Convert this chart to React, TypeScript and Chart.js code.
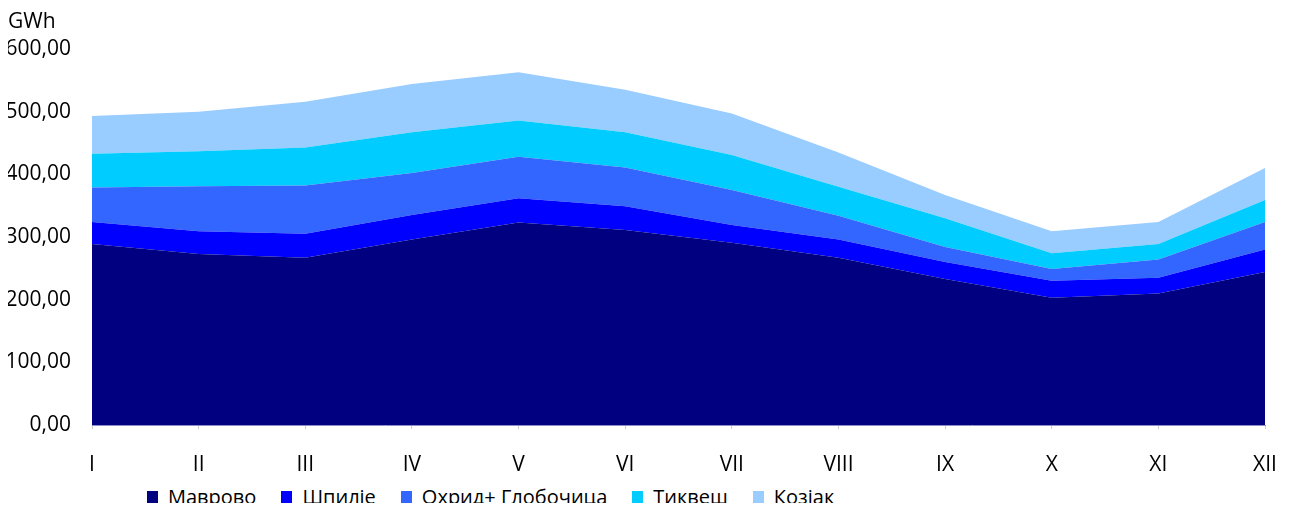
import React, { useEffect, useRef } from "react";
import { Chart, registerables } from "chart.js";

Chart.register(...registerables);

const months = ["I", "II", "III", "IV", "V", "VI", "VII", "VIII", "IX", "X", "XI", "XII"];
const mavrovo = [289, 273, 267, 296, 323, 311, 291, 267, 233, 203, 210, 244];
const spilje = [35, 36, 38, 39, 39, 38, 28, 29, 27, 27, 25, 36];
const ohrid = [55, 72, 77, 67, 66, 62, 56, 38, 24, 19, 29, 44];
const tikves = [54, 56, 61, 65, 58, 56, 56, 46, 46, 25, 25, 35];
const kozjak = [60, 63, 73, 77, 77, 68, 66, 55, 37, 35, 35, 51];
const seriesNames = ["Маврово", "Шпилје", "Охрид+ Глобочица", "Тиквеш", "Козјак"];
const seriesColors = ["#000080", "#0000FF", "#3366FF", "#00CCFF", "#99CCFF"];
const yTicks = [0, 100, 200, 300, 400, 500, 600];
const unitLabel = "GWh";

const FONT = "'Open Sans', sans-serif";

export default function App() {
  const canvasRef = useRef<HTMLCanvasElement | null>(null);

  useEffect(() => {
    const canvas = canvasRef.current;
    if (!canvas) return;
    const values = [mavrovo, spilje, ohrid, tikves, kozjak];
    const chart = new Chart(canvas, {
      type: "line",
      data: {
        labels: months,
        datasets: values.map((v, i) => ({
          label: seriesNames[i],
          data: v,
          backgroundColor: seriesColors[i],
          borderColor: seriesColors[i],
          borderWidth: 0,
          pointRadius: 0,
          tension: 0,
          fill: i === 0 ? "origin" : "-1",
        })),
      },
      options: {
        animation: false,
        responsive: false,
        maintainAspectRatio: false,
        layout: { padding: { top: 41, right: 19, left: 0, bottom: 0 } },
        plugins: {
          legend: { display: false },
          tooltip: { enabled: false },
        },
        scales: {
          x: {
            type: "category",
            offset: false,
            grid: {
              display: true,
              drawOnChartArea: false,
              drawTicks: true,
              tickLength: 4,
              color: "#d0d0d0",
            },
            border: { display: true, color: "#8c8cc6", width: 1 },
            ticks: {
              color: "#000",
              font: { family: FONT, size: 21 },
              padding: 23,
              maxRotation: 0,
              autoSkip: false,
            },
            afterFit: (scale: any) => {
              scale.height = 53;
              scale.paddingRight = 19;
              scale.paddingLeft = 0;
            },
          },
          y: {
            stacked: true,
            min: 0,
            max: 600,
            grid: { display: false, drawTicks: false },
            border: { display: false },
            afterBuildTicks: (scale: any) => {
              scale.ticks = yTicks.map((v) => ({ value: v }));
            },
            ticks: {
              color: "#000",
              font: { family: FONT, size: 21 },
              padding: 21,
              callback: (v: any) => Number(v).toFixed(2).replace(".", ","),
            },
            afterFit: (scale: any) => {
              scale.width = 84;
            },
          },
        },
      },
    });
    return () => chart.destroy();
  }, []);

  return (
    <div style={{ position: "relative", width: 1276, height: 495, fontFamily: FONT }}>
      <canvas
        ref={canvasRef}
        width={1276}
        height={470}
        style={{ position: "absolute", left: 0, top: 0, width: 1276, height: 470 }}
      />
      <div
        style={{
          position: "absolute",
          left: 0,
          top: 0,
          fontSize: 21,
          lineHeight: "24px",
          color: "#000",
        }}
      >
        {unitLabel}
      </div>
      <div
        style={{
          position: "absolute",
          left: 139,
          top: 477,
          height: 24,
          display: "flex",
          alignItems: "center",
        }}
      >
        {seriesNames.map((name, i) => (
          <div key={name} style={{ display: "flex", alignItems: "center", marginRight: 25 }}>
            <span
              style={{
                display: "inline-block",
                width: 11,
                height: 12,
                background: seriesColors[i],
                marginRight: 10,
              }}
            />
            <span style={{ fontSize: 20, lineHeight: "24px", color: "#000", whiteSpace: "nowrap" }}>
              {name}
            </span>
          </div>
        ))}
      </div>
    </div>
  );
}
